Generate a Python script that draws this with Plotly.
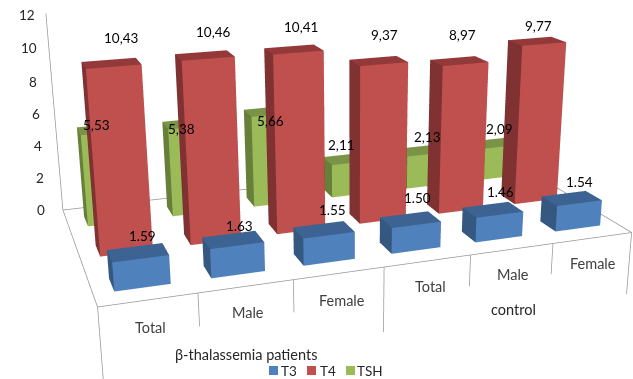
import plotly.graph_objects as go

# Values per subgroup, patients first, then controls
categories = ["Total", "Male", "Female", "Total", "Male", "Female"]
t3_values = [1.59, 1.63, 1.55, 1.50, 1.46, 1.54]
t4_values = [10.43, 10.46, 10.41, 9.37, 8.97, 9.77]
tsh_values = [5.53, 5.38, 5.66, 2.11, 2.13, 2.09]
z_ticks = [0, 2, 4, 6, 8, 10, 12]
group_labels = ["β-thalassemia patients", "control"]

# Page window and the oversized canvas: plotly's fixed field of view only flattens
# the perspective on a larger viewport, so the canvas is centred on the window.
WIN_W, WIN_H = 633, 379
FIG_W, FIG_H = 1583, 948
OFF_L, OFF_T = 475, 285

FONT = "Lato"
GREY = "#969696"
BAR_HALF_X, BAR_HALF_Y = 0.2877, 0.1785

SERIES_STYLE = [
    # name, row, front, top, side
    ("T3", 0, "#4F81BD", "#3C6392", "#355880"),
    ("T4", 1, "#C0504D", "#94393A", "#7F3231"),
    ("TSH", 2, "#9BBB59", "#7A9346", "#66803A"),
]
SERIES_VALUES = [t3_values, t4_values, tsh_values]

T3_LABEL_XY = [(142, 236), (239, 226), (332, 210), (417, 198), (500, 192), (579, 182)]
T4_LABEL_XY = [(121, 38), (213, 32), (301, 27), (384, 35), (463, 35), (538, 26)]
TSH_LABEL_XY = [(96, 125), (181, 129), (270, 121), (342, 145), (428, 137), (499, 129)]
CATEGORY_XY = [(150, 327), (248, 312), (342, 300), (430, 286), (513, 274), (593, 263)]
Z_TICK_XY = [(41, 210), (40, 178), (38, 146), (36, 114), (33, 82), (29, 48), (27, 15)]
# Depth of the drop lines under the floor edge, per category boundary
DROP_DEPTH = [-4.6, -1.85, -1.85, -3.8, -1.85, -1.85, -3.8]


def px_x(x):
    return (x + OFF_L) / FIG_W


def px_y(y):
    return 1 - (y + OFF_T) / FIG_H


def text(x, y, s, size=13, color="#000000", **kw):
    return dict(text=s, x=px_x(x), y=px_y(y), xref="paper", yref="paper", showarrow=False,
                xanchor="center", yanchor="middle", font=dict(family=FONT, size=size, color=color), **kw)


def bars(values, row, front, top, side, name):
    """Cuboids for one series: one per category, on its depth row."""
    xs, ys, zs, i, j, k, colors = [], [], [], [], [], [], []
    faces = [
        ((0, 1, 2), side), ((0, 2, 3), side),
        ((4, 5, 6), top), ((4, 6, 7), top),
        ((0, 1, 5), front), ((0, 5, 4), front),
        ((1, 2, 6), side), ((1, 6, 5), side),
        ((2, 3, 7), side), ((2, 7, 6), side),
        ((3, 0, 4), side), ((3, 4, 7), side),
    ]
    for c, v in enumerate(values):
        base = len(xs)
        x0, x1 = c + 0.5 - BAR_HALF_X, c + 0.5 + BAR_HALF_X
        y0, y1 = row + 0.5 - BAR_HALF_Y, row + 0.5 + BAR_HALF_Y
        for h in (0, v):
            for a, b in ((x0, y0), (x1, y0), (x1, y1), (x0, y1)):
                xs.append(a)
                ys.append(b)
                zs.append(h)
        for tri, col in faces:
            i.append(base + tri[0])
            j.append(base + tri[1])
            k.append(base + tri[2])
            colors.append(col)
    return go.Mesh3d(x=xs, y=ys, z=zs, i=i, j=j, k=k, facecolor=colors, flatshading=True, name=name,
                     hoverinfo="skip",
                     lighting=dict(ambient=1, diffuse=0, specular=0, roughness=1, fresnel=0))


fig = go.Figure()
for (name, row, front, top, side), vals in zip(SERIES_STYLE, SERIES_VALUES):
    fig.add_trace(bars(vals, row, front, top, side, name))

# Floor outline, left wall edge and the category table rules below the floor
lx, ly, lz = [], [], []
n_cat = len(categories)
for a, b in [((0, 0, 0), (n_cat, 0, 0)), ((0, 0, 0), (0, 3, 0)), ((n_cat, 0, 0), (n_cat, 3, 0)),
             ((0, 3, 0), (n_cat, 3, 0)), ((0, 3, 0), (0, 3, z_ticks[-1]))]:
    lx += [a[0], b[0], None]
    ly += [a[1], b[1], None]
    lz += [a[2], b[2], None]
for c, d in enumerate(DROP_DEPTH):
    lx += [c, c, None]
    ly += [0, 0, None]
    lz += [0, d, None]
fig.add_trace(go.Scatter3d(x=lx, y=ly, z=lz, mode="lines", line=dict(color=GREY, width=1.5), hoverinfo="skip"))

notes = []
for vals, xy, sep in ((t3_values, T3_LABEL_XY, "."), (t4_values, T4_LABEL_XY, ","), (tsh_values, TSH_LABEL_XY, ",")):
    for v, (x, y) in zip(vals, xy):
        notes.append(text(x, y, f"{v:.2f}".replace(".", sep), size=13.5))
for s, (x, y) in zip(categories, CATEGORY_XY):
    notes.append(text(x, y, s, color="#404040", size=14.5))
for t, (x, y) in zip(z_ticks, Z_TICK_XY):
    notes.append(text(x, y, str(t), color="#262626", size=13.5))
notes.append(text(246, 354, group_labels[0], color="#262626", size=14.5))
notes.append(text(513, 309, group_labels[1], color="#262626", size=14.5))

shapes = []
for (name, _, color, _, _), sq, tx in zip(SERIES_STYLE, (269, 307, 346), (289, 328, 370)):
    shapes.append(dict(type="rect", xref="paper", yref="paper", x0=px_x(sq), x1=px_x(sq + 9),
                       y0=px_y(366), y1=px_y(375), fillcolor=color, line=dict(width=0)))
    notes.append(text(tx, 371, name, color="#262626", size=13.5))

hidden = dict(visible=False)
fig.update_layout(
    width=FIG_W, height=FIG_H, margin=dict(l=0, r=0, t=0, b=0),
    paper_bgcolor="white", showlegend=False,
    annotations=notes, shapes=shapes,
    scene=dict(
        domain=dict(x=[0, 1], y=[0, 1]),
        xaxis=dict(range=[0, n_cat], **hidden),
        yaxis=dict(range=[0, 3], **hidden),
        zaxis=dict(range=[-8, 12], **hidden),
        aspectmode="manual",
        aspectratio=dict(x=1.8, y=0.8913, z=1.194),
        camera=dict(eye=dict(x=-1.2369, y=-3.5589, z=1.2773),
                    center=dict(x=-0.5281, y=-1.3851, z=0.5018),
                    up=dict(x=-0.7438, y=-2.2873, z=1)),
    ),
)

fig.write_html(
    "out.html",
    config=dict(displayModeBar=False),
    post_script=(
        "var d=document.getElementById('{plot_id}');"
        f"d.style.position='absolute';d.style.left='-{OFF_L}px';d.style.top='-{OFF_T}px';"
        "document.documentElement.style.overflow='hidden';document.body.style.overflow='hidden';"
    ),
)
